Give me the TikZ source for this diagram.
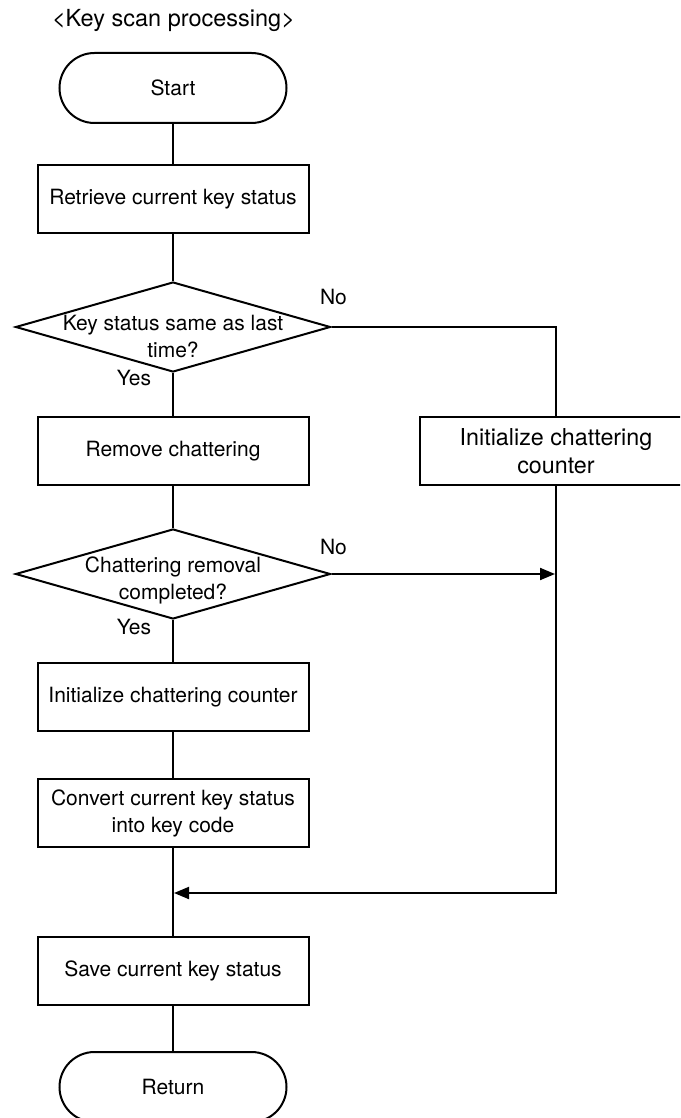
\documentclass[tikz,border=0pt]{standalone}
\usepackage{fontspec}
\setmainfont{TeX Gyre Heros}
\usetikzlibrary{shapes.geometric,arrows.meta}
\begin{document}
\begin{tikzpicture}[x=1pt,y=-1pt,
  every node/.style={font=\fontsize{21}{27}\selectfont, align=center},
  flow/.style={line width=2pt},
  terminal/.style={draw, line width=2pt, rectangle, rounded corners=35pt,
    minimum width=227pt, minimum height=70pt, inner sep=0pt},
  process/.style={draw, line width=2pt, rectangle,
    minimum width=271pt, minimum height=68pt, inner sep=0pt},
  decision/.style={draw, line width=2pt, diamond,
    minimum width=315pt, minimum height=90pt, inner sep=0pt},
  branch/.style={inner sep=0pt},
  tip/.style={-{Triangle[length=15pt,width=12pt]}}
]
\clip (0,0) rectangle (680,1118);

% heading
\node (title) at (173.5,20) {\fontsize{23.5}{28}\selectfont <Key scan processing>};

% main column
\node[terminal] (start) at (173,88) {Start};
\node[process] (retrieve) at (173,199) {Retrieve current key status};
\node[decision] (same) at (173,327) {};
\node (sametext) at (173,336.5) {Key status same as last\\time?};
\node[process] (remove) at (173,451) {Remove chattering};
\node[decision] (done) at (173,574) {};
\node (donetext) at (173,580) {Chattering removal\\completed?};
\node[process] (initL) at (173,697) {Initialize chattering counter};
\node[process] (convert) at (173,813) {Convert current key status\\into key code};
\node[process] (save) at (173,971) {Save current key status};
\node[terminal] (return) at (173,1087) {Return};

% side branch
\node[process, minimum width=272pt, font=\fontsize{23.3}{28}\selectfont]
  (initR) at (556,451) {Initialize chattering\\counter};

% branch labels
\node[branch] (no1) at (333.5,297) {No};
\node[branch] (yes1) at (134,378) {Yes};
\node[branch] (no2) at (333.5,547) {No};
\node[branch] (yes2) at (134,627) {Yes};

% connectors
\coordinate (merge) at (174,893);
\draw[flow] (start) -- (retrieve);
\draw[flow] (retrieve) -- (same);
\draw[flow] (same) -- (remove);
\draw[flow] (same.east) -| (initR.north);
\draw[flow] (remove) -- (done);
\draw[flow, tip, shorten >=1pt] (done.east) -- (done.east -| initR.south);
\draw[flow] (done) -- (initL);
\draw[flow] (initL) -- (convert);
\draw[flow] (convert) -- (save);
\draw[flow] (save) -- (return);
\draw[flow, tip] (initR.south) |- (merge);
\end{tikzpicture}
\end{document}
